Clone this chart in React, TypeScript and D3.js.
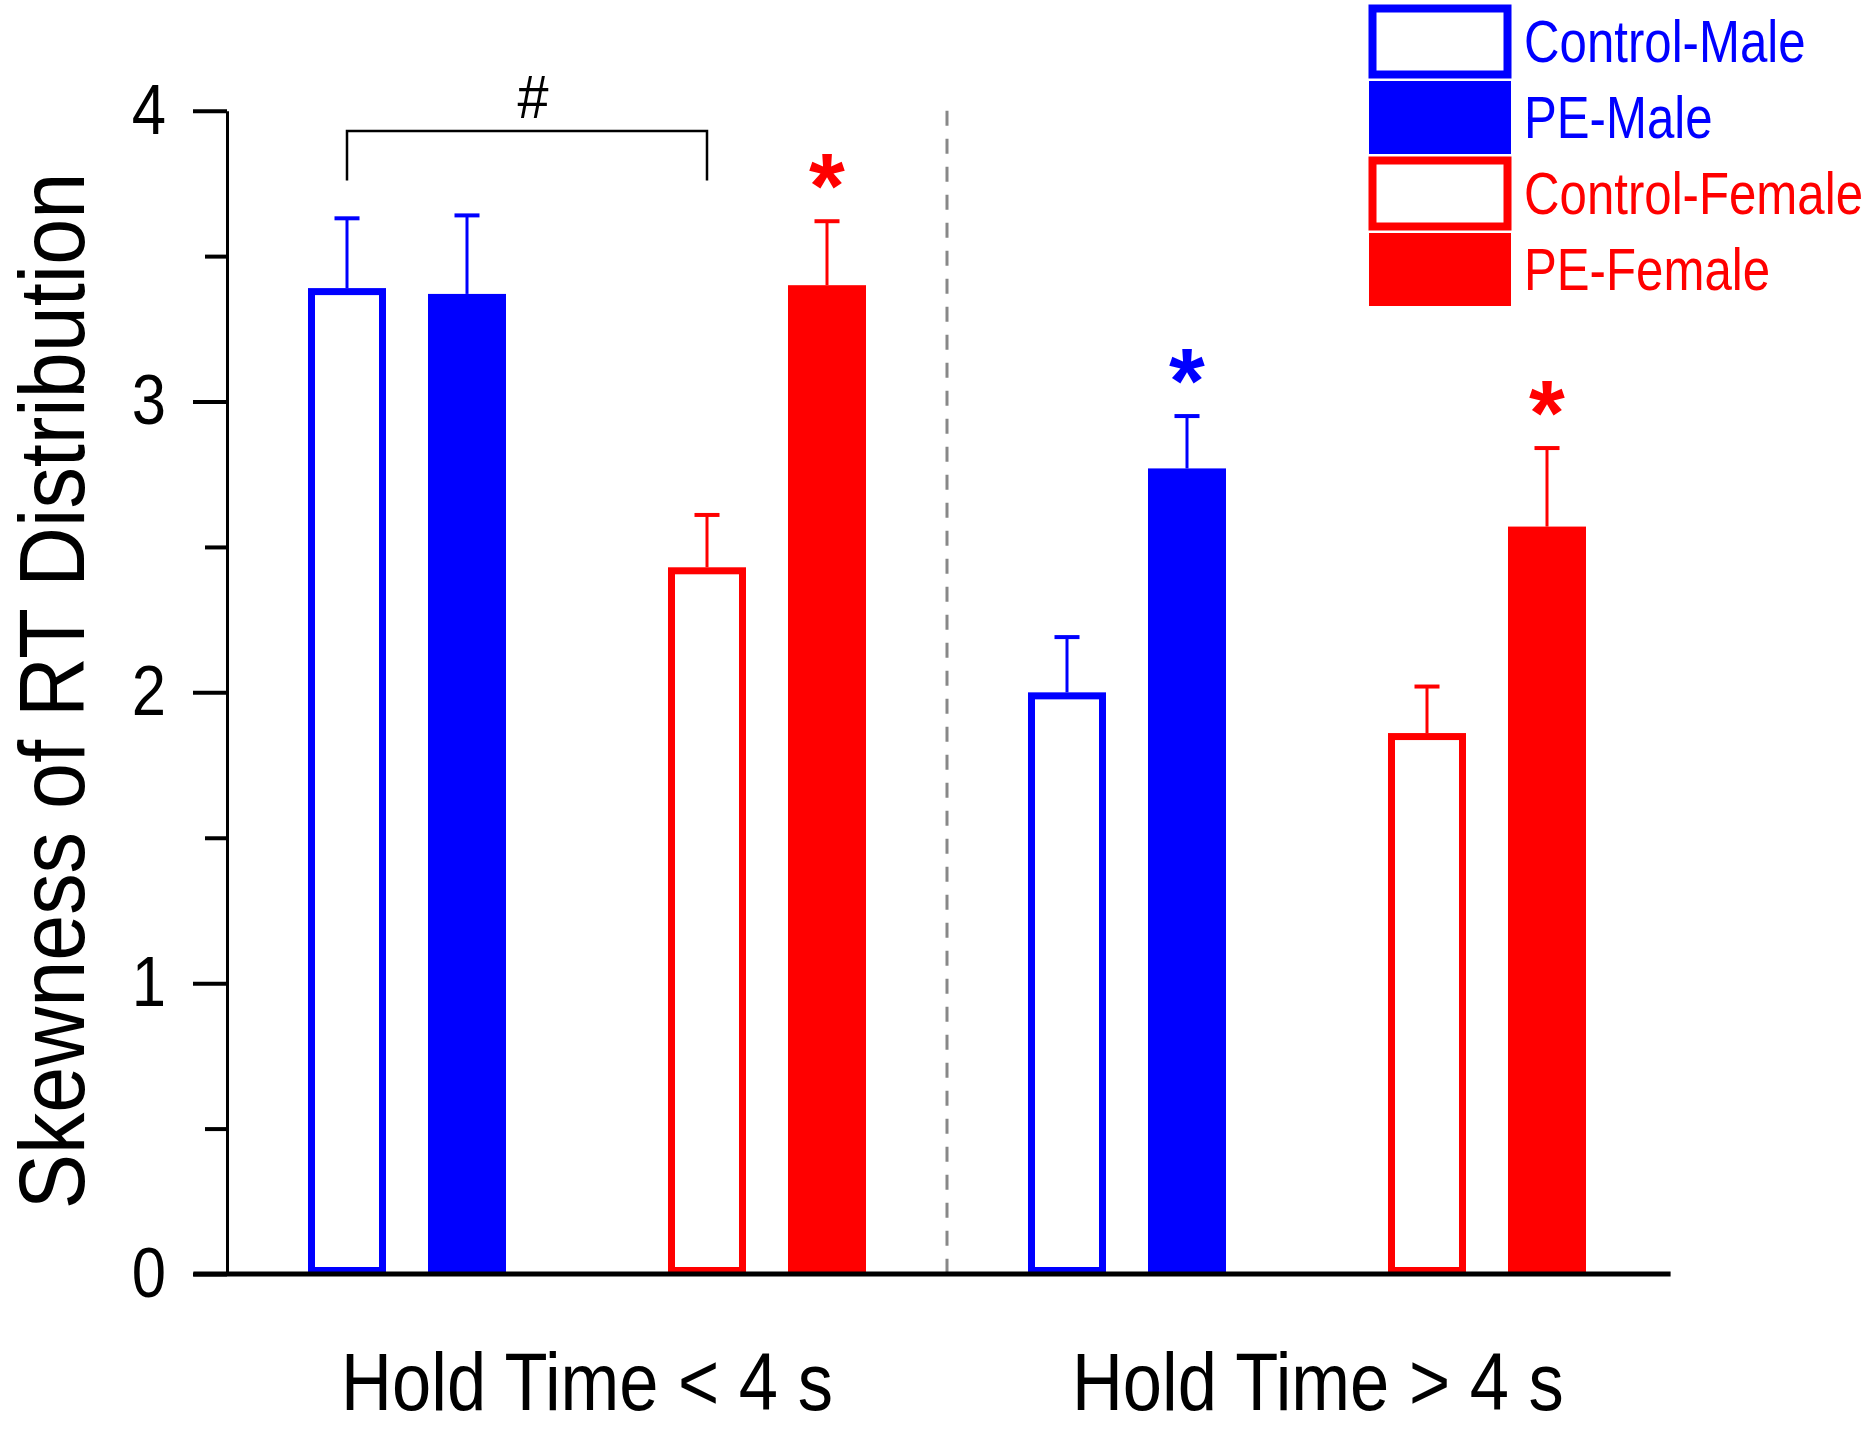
import * as React from 'react';
import * as d3 from 'd3';
import { useRef, useEffect } from 'react';

// Chart data
const groups = ['Hold Time < 4 s', 'Hold Time > 4 s'];
const seriesNames = ['Control-Male', 'PE-Male', 'Control-Female', 'PE-Female'];
const seriesColors = ['#0000FF', '#0000FF', '#FF0000', '#FF0000'];
const seriesFilled = [false, true, false, true];
const meanLt4 = [3.39, 3.37, 2.43, 3.40];
const semLt4 = [0.24, 0.27, 0.18, 0.22];
const meanGt4 = [2.00, 2.77, 1.86, 2.57];
const semGt4 = [0.19, 0.18, 0.16, 0.27];
// asterisks: [group, series]
const starMarks = [[0, 3], [1, 1], [1, 3]];
const majorTicks = [0, 1, 2, 3, 4];
const minorTicks = [0.5, 1.5, 2.5, 3.5];
const yTitle = 'Skewness of RT Distribution';

const width = 1867;
const height = 1429;
const font = '"Liberation Sans", Arial, sans-serif';
const squeeze = 0.84;

// slot of each series inside a group, first slot of each group, label slot
const seriesSlot = [0, 1, 3, 4];
const groupSlot = [0, 6];
const labelSlot = [2, 8.09];

type Bar = {
    group: number,
    series: number,
    mean: number,
    sem: number
}

const bars: Bar[] = [];
[meanLt4, meanGt4].forEach((means, g) => {
    const sems = g === 0 ? semLt4 : semGt4;
    means.forEach((m, s) => bars.push({ group: g, series: s, mean: m, sem: sems[s] }));
});

export default function App() {
    const svgRef = useRef<SVGSVGElement>(null);

    useEffect(() => {
        const svg = d3.select(svgRef.current);
        svg.selectAll('*').remove();

        const x = d3.scaleLinear().domain([0, 10]).range([347, 1547]);
        const y = d3.scaleLinear().domain([0, 4]).range([1274, 110.7]);
        const barW = 78;
        const outline = 7;
        const slot = (b: Bar) => groupSlot[b.group] + seriesSlot[b.series];

        // separator between the two groups
        svg.append('line')
            .attr('x1', x(5)).attr('x2', x(5))
            .attr('y1', y(4)).attr('y2', y(0))
            .attr('stroke', '#888').attr('stroke-width', 3)
            .attr('stroke-dasharray', '15 13');

        // bars
        const barG = svg.append('g');
        bars.forEach(b => {
            const cx = x(slot(b));
            const col = seriesColors[b.series];
            if (seriesFilled[b.series]) {
                barG.append('rect')
                    .attr('x', cx - barW / 2).attr('y', y(b.mean))
                    .attr('width', barW).attr('height', y(0) - y(b.mean))
                    .attr('fill', col);
            } else {
                barG.append('rect')
                    .attr('x', cx - barW / 2 + outline / 2).attr('y', y(b.mean) + outline / 2)
                    .attr('width', barW - outline).attr('height', y(0) - y(b.mean) - outline)
                    .attr('fill', '#fff').attr('stroke', col).attr('stroke-width', outline);
            }
            // error bar (upper only)
            barG.append('line')
                .attr('x1', cx).attr('x2', cx)
                .attr('y1', y(b.mean)).attr('y2', y(b.mean + b.sem))
                .attr('stroke', col).attr('stroke-width', 3);
            barG.append('line')
                .attr('x1', cx - 12.5).attr('x2', cx + 12.5)
                .attr('y1', y(b.mean + b.sem)).attr('y2', y(b.mean + b.sem))
                .attr('stroke', col).attr('stroke-width', 4);
        });

        // significance asterisks
        starMarks.forEach(([g, s]) => {
            const b = bars.find(d => d.group === g && d.series === s)!;
            svg.append('text')
                .attr('x', x(slot(b))).attr('y', y(b.mean + b.sem) - 3)
                .attr('text-anchor', 'middle')
                .attr('font-family', font).attr('font-weight', 'bold')
                .attr('font-size', 92).attr('fill', seriesColors[s])
                .text('*');
        });

        // # bracket between Control-Male and Control-Female (< 4 s)
        svg.append('path')
            .attr('d', `M${x(0)},${y(3.76)}V${y(3.93)}H${x(3)}V${y(3.76)}`)
            .attr('fill', 'none').attr('stroke', '#000').attr('stroke-width', 2.5);
        svg.append('text')
            .attr('transform', `translate(${x(1.55)},${y(3.93) - 13}) scale(0.9,1)`)
            .attr('text-anchor', 'middle')
            .attr('font-family', font).attr('font-size', 62)
            .text('#');

        // y axis
        const yAxis = svg.append('g')
            .attr('transform', 'translate(227,0)')
            .call(d3.axisLeft(y).tickValues(majorTicks).tickSize(34).tickSizeOuter(0)
                .tickFormat(d3.format('d')));
        yAxis.select('.domain').attr('stroke-width', 3);
        yAxis.selectAll('.tick line').attr('stroke-width', 4);
        yAxis.selectAll('.tick text')
            .attr('x', 0).attr('dy', '0.32em')
            .attr('transform', `translate(-61,0) scale(0.88,1)`)
            .attr('font-family', font).attr('font-size', 70).attr('fill', '#000');

        const yMinor = svg.append('g')
            .attr('transform', 'translate(227,0)')
            .call(d3.axisLeft(y).tickValues(minorTicks).tickSize(22).tickSizeOuter(0).tickFormat(() => ''));
        yMinor.select('.domain').remove();
        yMinor.selectAll('.tick line').attr('stroke-width', 4);

        // x axis line
        svg.append('line')
            .attr('x1', x(-1.28)).attr('x2', x(11.03))
            .attr('y1', y(0)).attr('y2', y(0))
            .attr('stroke', '#000').attr('stroke-width', 5);

        // group labels
        groups.forEach((g, i) => {
            svg.append('text')
                .attr('transform', `translate(${x(labelSlot[i])},1410) scale(0.86,1)`)
                .attr('text-anchor', 'middle')
                .attr('font-family', font).attr('font-size', 82)
                .text(g);
        });

        // y title
        svg.append('text')
            .attr('transform', `translate(84,691) rotate(-90) scale(0.89,1)`)
            .attr('text-anchor', 'middle')
            .attr('font-family', font).attr('font-size', 93)
            .text(yTitle);

        // legend
        const legend = svg.append('g').attr('transform', 'translate(1369,5)');
        seriesNames.forEach((name, i) => {
            const row = legend.append('g').attr('transform', `translate(0,${i * 76})`);
            if (seriesFilled[i]) {
                row.append('rect').attr('width', 142).attr('height', 73).attr('fill', seriesColors[i]);
            } else {
                row.append('rect')
                    .attr('x', outline / 2).attr('y', outline / 2)
                    .attr('width', 142 - outline).attr('height', 73 - outline)
                    .attr('fill', '#fff').attr('stroke', seriesColors[i]).attr('stroke-width', outline + 1);
            }
            row.append('text')
                .attr('transform', `translate(155,57) scale(${squeeze - 0.02},1)`)
                .attr('font-family', font).attr('font-size', 60)
                .attr('fill', seriesColors[i])
                .text(name);
        });
    }, []);

    return (
        <svg ref={svgRef} width={width} height={height}
            style={{ position: 'absolute', left: 0, top: 0, background: '#fff' }} />
    );
}
